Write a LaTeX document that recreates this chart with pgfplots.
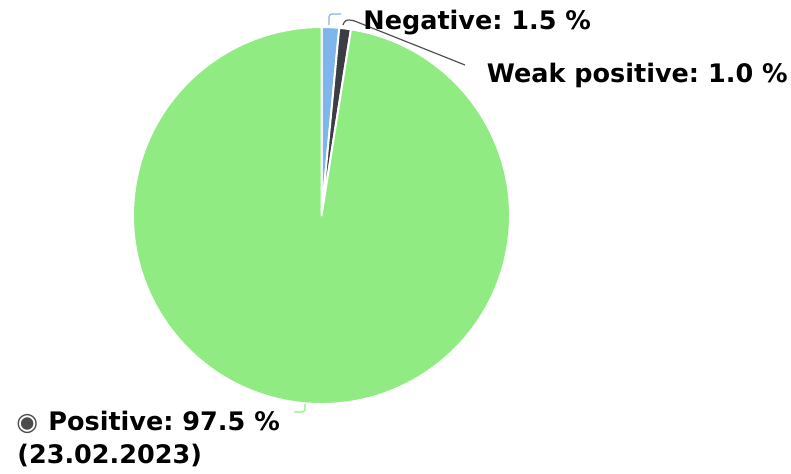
\documentclass[border=0pt]{standalone}
\usepackage{pgfplots}
\pgfplotsset{compat=1.18}
\usepackage{fontspec}
\setmainfont{DejaVu Sans}
\frenchspacing

\definecolor{negblue}{HTML}{7DB5EC}
\definecolor{weakgray}{HTML}{3C3C44}
\definecolor{posgreen}{HTML}{91EB83}

\begin{document}
\begin{tikzpicture}
\begin{axis}[
    x=0.5pt, y=0.5pt,
    xmin=0, xmax=791, ymin=0, ymax=473,
    scale only axis,
    hide axis,
    clip=false,
]
\path (axis cs:0,0) rectangle (axis cs:791,473);

% slices, clockwise from the top: Negative 1.5, Weak positive 1.0, Positive 97.5
\filldraw[fill=negblue, draw=white, line width=1pt, line join=round]
    (axis cs:321.5,257.5) -- ++(90:94.25pt)
    arc[start angle=90, end angle={90-3.6*1.5}, radius=94.25pt] -- cycle;
\filldraw[fill=weakgray, draw=white, line width=1pt, line join=round]
    (axis cs:321.5,257.5) -- ++({90-3.6*1.5}:94.25pt)
    arc[start angle={90-3.6*1.5}, end angle={90-3.6*2.5}, radius=94.25pt] -- cycle;
\filldraw[fill=posgreen, draw=white, line width=1pt, line join=round]
    (axis cs:321.5,257.5) -- ++({90-3.6*2.5}:94.25pt)
    arc[start angle={90-3.6*2.5}, end angle={90-3.6*100}, radius=94.25pt] -- cycle;

% leader lines
\draw[negblue, line width=0.6pt, rounded corners=1.5pt]
    (axis cs:329,448) -- (axis cs:329,459) -- (axis cs:341,459);
\draw[weakgray!90, line width=0.6pt, rounded corners=1.5pt]
    (axis cs:343,448) -- (axis cs:345,453) -- (axis cs:352,453) -- (axis cs:465,408);
\draw[posgreen, line width=0.6pt, rounded corners=1.5pt]
    (axis cs:305,69) -- (axis cs:305,61) -- (axis cs:294,61);

% labels
\begin{scope}[every node/.style={inner sep=0pt, anchor=base west,
    font=\fontsize{12.75}{16.3}\selectfont\bfseries}]
\node at (axis cs:363,443.5) {Negative: 1.5 \%};
\node at (axis cs:486.5,390.7) {Weak positive: 1.0 \%};
\node at (axis cs:16,42.3) {\textcolor{black!70}{\mdseries\fontsize{12.5}{12.5}\selectfont ◉}\hspace{0.4em}Positive: 97.5 \%};
\node at (axis cs:17,9.7) {(23.02.2023)};
\end{scope}
\end{axis}
\end{tikzpicture}
\end{document}
